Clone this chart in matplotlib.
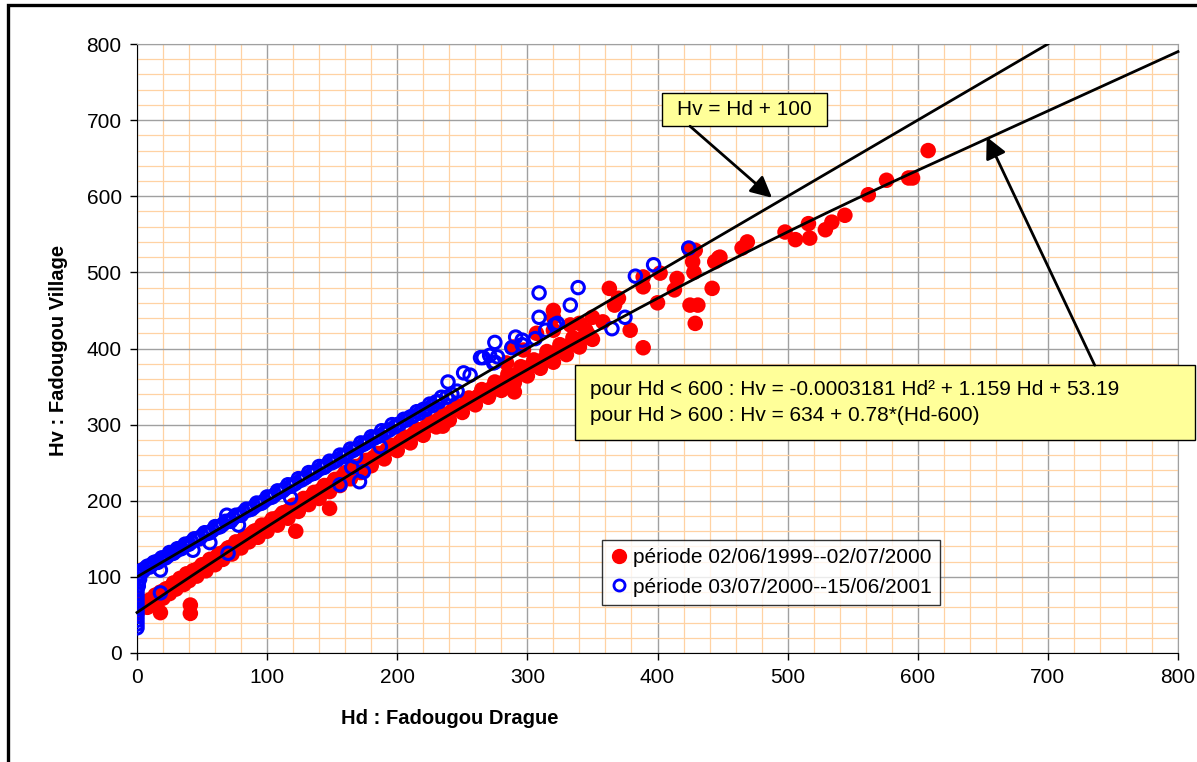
import matplotlib.pyplot as plt
from matplotlib.patches import Rectangle
from matplotlib.lines import Line2D
import numpy as np

plt.rcParams['font.family'] = ['Liberation Sans', 'DejaVu Sans']

# période 02/06/1999--02/07/2000 (red, filled) - dense band
red_band_hd = [0, 0, 0, 2, 4, 6, 8, 10, 12, 14, 16, 18, 20, 22, 25, 28, 30, 33, 36, 38,
               40, 43, 46, 50, 53, 56, 60, 63, 66, 70, 73, 76, 80, 83, 86, 90, 93, 96,
               100, 104, 108, 112, 116, 120, 124, 128, 132, 136, 140, 144, 148, 152, 156,
               160, 164, 168, 172, 176, 180, 185, 190, 195, 200, 205, 210, 215, 220, 225,
               230, 235, 240, 245, 250, 255, 260, 265, 270, 275, 280, 285, 290, 295, 300,
               305, 310, 315, 320, 325, 330, 335, 340, 345, 350,
               1, 3, 5, 7, 9, 11, 13, 15, 17, 19, 21, 24, 27, 29, 32, 35, 37, 39, 42, 45,
               48, 51, 55, 58, 62, 65, 68, 72, 75, 78, 82, 85, 88, 92, 95, 98, 102, 106,
               110, 114, 118, 122, 126, 130, 134, 138, 142, 146, 150, 154, 158, 162, 166,
               170, 174, 178, 182, 187, 192, 197, 202, 207, 212, 217, 222, 227, 232, 237,
               242, 247, 252, 257, 262, 267, 272, 277, 282, 287, 292, 297, 302, 307, 312,
               317, 322, 327, 332, 337, 342, 347]
red_band_hv = [52, 58, 64, 70, 62, 66, 60, 70, 64, 76, 68, 80, 72, 84, 78, 92, 84, 98, 90, 104,
               95, 108, 101, 116, 108, 123, 116, 130, 123, 138, 130, 146, 138, 153, 146, 160, 152, 168,
               160, 176, 168, 184, 177, 194, 186, 203, 195, 211, 203, 220, 212, 228, 220,
               237, 229, 245, 237, 253, 246, 262, 255, 273, 266, 284, 276, 294, 286, 304,
               297, 314, 306, 325, 316, 335, 326, 346, 336, 356, 345, 366, 355, 376, 364,
               385, 374, 396, 382, 405, 392, 414, 402, 424, 412,
               57, 60, 63, 66, 67, 70, 72, 74, 77, 79, 81, 85, 88, 90, 94, 97, 100, 102, 105, 109,
               112, 115, 120, 123, 128, 131, 134, 139, 142, 145, 150, 153, 157, 161, 164, 167, 171, 176,
               180, 185, 189, 193, 198, 202, 206, 211, 215, 219, 223, 228, 232, 236, 241,
               245, 249, 253, 257, 262, 267, 272, 277, 282, 287, 292, 297, 302, 307, 312,
               318, 322, 327, 332, 337, 342, 347, 351, 356, 361, 366, 371, 376, 381, 385,
               390, 395, 400, 404, 409, 413, 418]
# red scattered points
red_pts_hd = [363, 370, 367, 320, 320, 350, 358, 340, 333, 379, 389, 389, 389, 402, 415,
              413, 400, 425, 429, 427, 428, 425, 431, 429, 442, 446, 448, 307, 320, 289,
              297, 284,
              469, 465, 447, 444, 498, 506, 516, 517, 529, 534, 544, 562, 576, 593, 596, 608,
              18, 41, 41, 122, 148, 235, 268, 271, 290]
red_pts_hv = [479, 466, 457, 450, 441, 441, 435, 433, 431, 424, 401, 494, 481, 499, 492,
              477, 460, 529, 529, 514, 500, 457, 457, 433, 479, 516, 520, 420, 424, 402,
              398, 381,
              540, 532, 519, 514, 553, 543, 564, 545, 556, 566, 575, 602, 621, 624, 624, 660,
              53, 63, 52, 160, 190, 298, 341, 341, 343]

# période 03/07/2000--15/06/2001 (blue, open) - dense band
blue_band_hd = [0, 0, 0, 0, 0, 0, 0, 0, 0, 0, 0, 1, 1, 2, 2, 2,
                3, 5, 8, 10, 13, 16, 19, 22, 25, 28, 31, 34, 37, 40, 44, 48, 52, 56, 60,
                64, 68, 72, 76, 80, 84, 88, 92, 96, 100, 104, 108, 112, 116, 120, 124, 128,
                132, 136, 140, 144, 148, 152, 156, 160, 164, 168, 172, 176, 180, 184, 188,
                192, 196, 200, 205, 210, 215, 220, 225, 230, 234,
                4, 7, 9, 12, 15, 18, 21, 24, 27, 30, 33, 36, 39, 42, 46, 50, 54, 58, 62, 66,
                70, 74, 78, 82, 86, 90, 94, 98, 102, 106, 110, 114, 118, 122, 126, 130, 134,
                138, 142, 146, 150, 154, 158, 162, 166, 170, 174, 178, 182, 186, 190, 194,
                198, 202, 207, 212, 217, 222, 227, 232, 238, 242, 246]
blue_band_hv = [33, 38, 43, 48, 53, 58, 63, 68, 73, 78, 83, 88, 93, 97, 101, 104,
                108, 108, 114, 113, 119, 119, 125, 125, 132, 131, 137, 137, 143, 143, 150, 150,
                158, 158, 166, 166, 173, 173, 181, 181, 189, 189, 197, 197, 205, 205, 213, 213,
                221, 221, 229, 229, 237, 236, 245, 244, 252, 252, 260, 260, 268, 268, 276, 276,
                284, 284, 292, 292, 300, 300, 307, 310, 317, 320, 327, 330, 336,
                109, 112, 114, 117, 120, 122, 125, 128, 131, 134, 137, 140, 143, 146, 150, 154,
                157, 161, 165, 169, 173, 177, 181, 185, 188, 192, 196, 200, 204, 208, 212, 216,
                219, 223, 227, 231, 235, 239, 243, 247, 250, 254, 258, 262, 266, 270, 274, 278,
                282, 285, 289, 293, 297, 301, 306, 311, 315, 320, 325, 330, 336, 340, 344]
# blue scattered points
blue_pts_hd = [18, 18, 43, 56, 70, 78, 69, 118, 156, 171, 174, 165, 168, 187,
               424, 397, 383, 375, 365, 339, 333, 309, 309, 323, 321, 314, 306, 296, 296,
               291, 288, 275, 277, 275, 271, 266, 264, 274, 256, 251, 239]
blue_pts_hv = [109, 79, 135, 145, 131, 168, 181, 204, 221, 225, 238, 244, 258, 271,
               532, 510, 495, 441, 426, 480, 457, 473, 441, 433, 431, 424, 413, 411, 405,
               415, 401, 408, 389, 382, 391, 388, 388, 381, 365, 368, 356]

# fitted relations shown in the boxes
a2, a1, a0 = -0.0003181, 1.159, 53.19
h_break, v_break, slope_hi = 600, 634, 0.78
offset_100 = 100

fig = plt.figure(figsize=(11.97, 7.62), dpi=100)
ax = fig.add_axes([137/1197, 1-653/762, 1041/1197, 609/762])

ax.set_xlim(0, 800)
ax.set_ylim(0, 800)
ax.set_xticks(range(0, 801, 100))
ax.set_yticks(range(0, 801, 100))
ax.set_xticks(range(0, 801, 20), minor=True)
ax.set_yticks(range(0, 801, 20), minor=True)
ax.grid(which='minor', color='#FFD2A3', lw=0.9)
ax.grid(which='major', color='#A0A0A0', lw=1.0)
ax.set_axisbelow(True)
ax.tick_params(which='minor', length=0)
ax.tick_params(which='major', direction='out', length=5, width=1, color='black',
               labelsize=15, pad=6)
for s in ['top', 'right']:
    ax.spines[s].set_color('#A0A0A0')
for s in ['left', 'bottom']:
    ax.spines[s].set_color('black')

ax.scatter(red_band_hd + red_pts_hd, red_band_hv + red_pts_hv, s=125, c='#FF0000',
           edgecolors='none', zorder=3)
ax.scatter(blue_band_hd + blue_pts_hd, blue_band_hv + blue_pts_hv, s=80, facecolors='none',
           edgecolors='#0000FF', linewidths=2.2, zorder=4)

h1 = np.linspace(0, 700, 50)
ax.plot(h1, h1 + offset_100, color='black', lw=2, zorder=5)
hq = np.linspace(0, h_break, 200)
hl = np.linspace(h_break, 800, 20)
ax.plot(np.r_[hq, hl], np.r_[a2*hq**2 + a1*hq + a0, v_break + slope_hi*(hl - h_break)],
        color='black', lw=2, zorder=5, clip_on=False)

# annotation boxes
ax.add_patch(Rectangle((403.4, 692.3), 126.8, 43.3, facecolor='#FFFF99',
                       edgecolor='black', lw=1, zorder=6, clip_on=False))
ax.text(466.8, 713.5, 'Hv = Hd + 100', fontsize=15, ha='center', va='center', zorder=7)
ax.add_patch(Rectangle((336.6, 279.8), 476.4, 98.5, facecolor='#FFFF99',
                       edgecolor='black', lw=1, zorder=6, clip_on=False))
ax.text(348, 329, 'pour Hd < 600 : Hv = -0.0003181 Hd\u00b2 + 1.159 Hd + 53.19\n'
        'pour Hd > 600 : Hv = 634 + 0.78*(Hd-600)', fontsize=15, ha='left',
        va='center', linespacing=1.5, zorder=7, clip_on=False)

arrow = dict(arrowstyle='-|>', color='black', lw=2, mutation_scale=32, shrinkA=0, shrinkB=0)
ax.annotate('', xy=(488, 598), xytext=(425, 692), arrowprops=arrow, zorder=6)
ax.annotate('', xy=(653, 678), xytext=(736, 378), arrowprops=arrow, zorder=6)

handles = [Line2D([], [], ls='none', marker='o', ms=10, mfc='#FF0000', mec='#FF0000'),
           Line2D([], [], ls='none', marker='o', ms=8, mfc='none', mec='#0000FF', mew=2)]
leg = ax.legend(handles, ['période 02/06/1999--02/07/2000', 'période 03/07/2000--15/06/2001'],
                loc='upper left', bbox_to_anchor=((602-137)/1041, (653-540)/609),
                borderaxespad=0, fontsize=15, frameon=True, fancybox=False,
                handlelength=0.8, handletextpad=0.3, borderpad=0.4, labelspacing=0.5)
leg.get_frame().set_edgecolor('black')
leg.get_frame().set_linewidth(1)
leg.set_zorder(8)

fig.text(450/1197, 1-718/762, 'Hd : Fadougou Drague', fontsize=14.5, fontweight='bold',
         ha='center', va='center')
fig.text(58/1197, 1-350/762, 'Hv : Fadougou Village', fontsize=14.5, fontweight='bold',
         ha='center', va='center', rotation=90)

fig.add_artist(Rectangle((8/1197, -0.05), 1.1, 0.05 + 1 - 5/762, transform=fig.transFigure,
                         fill=False, edgecolor='black', lw=2.4))

fig.savefig('out.png', dpi=100)
